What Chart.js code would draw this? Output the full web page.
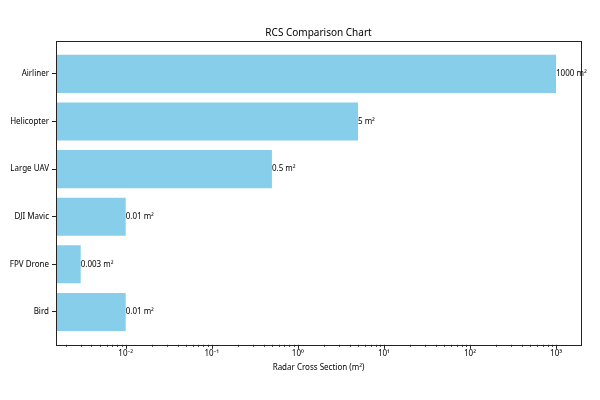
<!DOCTYPE html>
<html>
<head>
<meta charset="utf-8">
<script src="https://cdn.jsdelivr.net/npm/chart.js@4"></script>
<style>
  html, body { margin: 0; padding: 0; background: #fff; }
  #wrap { width: 600px; height: 400px; }
</style>
</head>
<body>
<div id="wrap"><canvas id="rcsChart"></canvas></div>
<script>
// data
const categories = ['Airliner', 'Helicopter', 'Large UAV', 'DJI Mavic', 'FPV Drone', 'Bird'];
const rcsValues = [1000, 5, 0.5, 0.01, 0.003, 0.01];
const decadeLabels = ['10⁻²', '10⁻¹', '10⁰', '10¹', '10²', '10³'];
const decadeExps = [-2, -1, 0, 1, 2, 3];

const FONT = 'Noto Sans, DejaVu Sans, sans-serif';
const INK = '#222';

// frame around the plot, minor/major x ticks, value labels at bar ends
const extras = {
  id: 'extras',
  afterDraw(chart) {
    const ctx = chart.ctx;
    const a = chart.chartArea;
    const xs = chart.scales.x;
    ctx.save();
    ctx.strokeStyle = INK;
    ctx.lineWidth = 1;
    ctx.strokeRect(Math.round(a.left) + 0.5, Math.round(a.top) + 0.5,
                   Math.round(a.right - a.left), Math.round(a.bottom - a.top));
    xs.ticks.forEach(t => {
      const px = Math.round(xs.getPixelForValue(t.value)) + 0.5;
      ctx.beginPath();
      ctx.moveTo(px, a.bottom);
      ctx.lineTo(px, a.bottom + (t.isMajor ? 4 : 2));
      ctx.stroke();
    });
    const meta = chart.getDatasetMeta(0);
    ctx.fillStyle = '#000';
    ctx.font = '8px ' + FONT;
    ctx.textAlign = 'left';
    ctx.textBaseline = 'middle';
    meta.data.forEach((bar, i) => {
      ctx.fillText(rcsValues[i] + ' m²', bar.x, bar.y);
    });
    ctx.restore();
  }
};

new Chart(document.getElementById('rcsChart'), {
  type: 'bar',
  data: {
    datasets: [{
      data: rcsValues.map((v, i) => ({ x: v, y: i })),
      backgroundColor: '#87CEEB',
      borderWidth: 0,
      barPercentage: 0.8,
      categoryPercentage: 1
    }]
  },
  options: {
    indexAxis: 'y',
    responsive: true,
    maintainAspectRatio: false,
    animation: false,
    layout: { padding: { left: 0, right: 19, top: 0, bottom: 27 } },
    plugins: {
      legend: { display: false },
      tooltip: { enabled: false },
      title: {
        display: true,
        fullSize: false,
        text: 'RCS Comparison Chart',
        color: '#000',
        font: { family: FONT, size: 10, weight: 'normal' },
        padding: { top: 27, bottom: 2 }
      }
    },
    scales: {
      x: {
        type: 'logarithmic',
        min: 0.00155,
        max: 1950,
        border: { display: false },
        grid: { drawOnChartArea: false, drawTicks: false },
        afterBuildTicks(scale) {
          const ticks = [];
          for (let e = -3; e <= 3; e++) {
            for (let m = 1; m <= 9; m++) {
              const v = m * Math.pow(10, e);
              if (v >= scale.min && v <= scale.max) ticks.push({ value: v, isMajor: m === 1 });
            }
          }
          scale.ticks = ticks;
        },
        ticks: {
          autoSkip: false,
          maxRotation: 0,
          padding: 4,
          color: '#000',
          font: { family: FONT, size: 8 },
          callback(value) {
            const e = Math.round(Math.log10(value));
            if (Math.abs(value - Math.pow(10, e)) > 1e-9 * Math.pow(10, e)) return '';
            const k = decadeExps.indexOf(e);
            return k >= 0 ? decadeLabels[k] : '';
          }
        },
        title: {
          display: true,
          text: 'Radar Cross Section (m²)',
          color: '#000',
          font: { family: FONT, size: 8 },
          padding: { top: 1, bottom: 0 }
        }
      },
      y: {
        type: 'linear',
        reverse: true,
        offset: false,
        min: -0.69,
        max: 5.69,
        border: { display: false },
        grid: { offset: false, drawOnChartArea: false, drawTicks: true, tickLength: 4, color: INK },
        afterBuildTicks(scale) {
          scale.ticks = categories.map((c, i) => ({ value: i }));
        },
        afterFit(scale) { scale.width = 56; },
        ticks: {
          padding: 3,
          color: '#000',
          font: { family: FONT, size: 8 },
          callback(value) { return categories[value] ?? ''; }
        }
      }
    }
  },
  plugins: [extras]
});
</script>
</body>
</html>
